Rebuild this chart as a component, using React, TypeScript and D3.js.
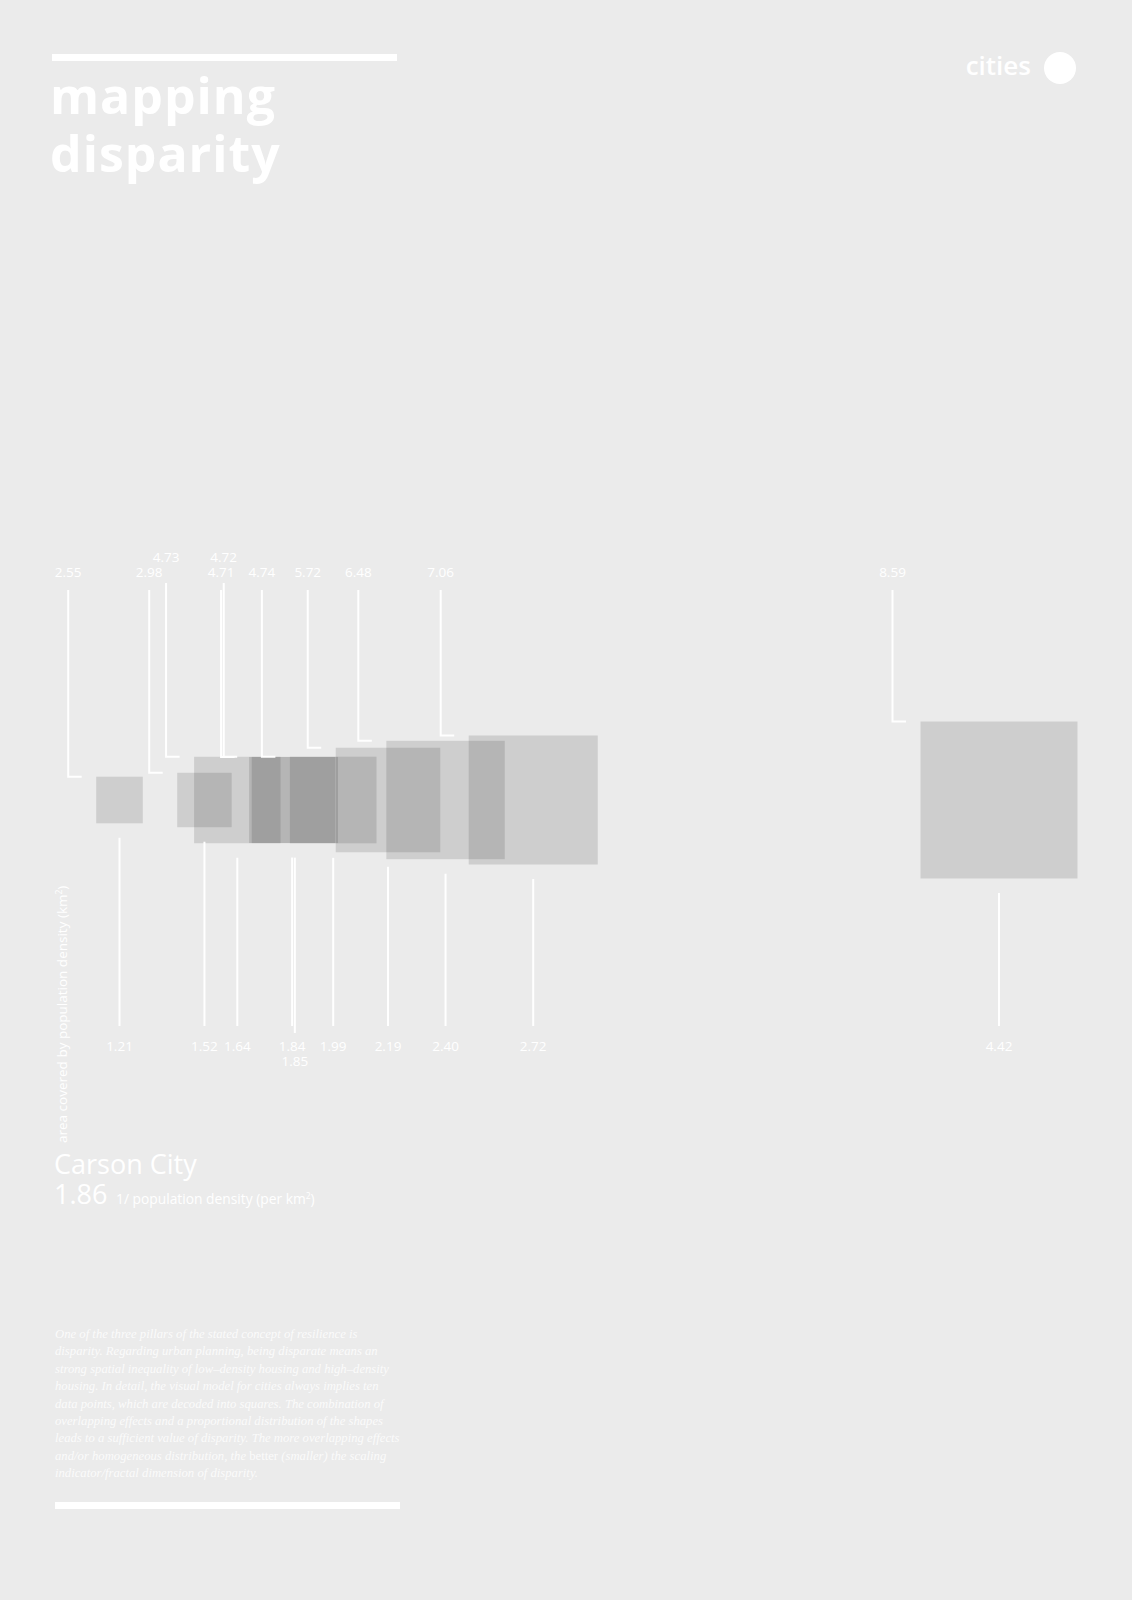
import React, { useEffect, useRef } from 'react';
import * as d3 from 'd3';

// 1 / population density (per km²) -> x position of each square
const inverseDensity = [1.21, 1.52, 1.64, 1.84, 1.85, 1.99, 2.19, 2.40, 2.72, 4.42];
// area covered by population density (km²) -> side of each square
const areaCovered = [2.55, 2.98, 4.73, 4.71, 4.72, 4.74, 5.72, 6.48, 7.06, 8.59];

const cityName = 'Carson City';
const cityValue = 1.86;

const paragraph = [
  'One of the three pillars of the stated concept of resilience is',
  'disparity. Regarding urban planning, being disparate means an',
  'strong spatial inequality of low–density housing and high–density',
  'housing. In detail, the visual model for cities always implies ten',
  'data points, which are decoded into squares. The combination of',
  'overlapping effects and a proportional distribution of the shapes',
  'leads to a sufficient value of disparity. The more overlapping effects',
  'and/or homogeneous distribution, the better (smaller) the scaling',
  'indicator/fractal dimension of disparity.',
];

const W = 1132;
const H = 1600;
const BG = '#ebebeb';
const SANS = "'Open Sans', 'Noto Sans', sans-serif";

// greedy: put a label on the second row when it collides with the previous one on the first row
function assignRows(xs: number[], minGap: number) {
  const order = d3.range(xs.length).sort((a, b) => xs[a] - xs[b]);
  const rows = new Array(xs.length).fill(0);
  let last = -Infinity;
  order.forEach(i => {
    if (xs[i] - last < minGap) rows[i] = 1;
    else last = xs[i];
  });
  return rows;
}

const DisparityChart = () => {
  const ref = useRef<HTMLDivElement>(null);

  useEffect(() => {
    d3.select(ref.current).selectAll('*').remove();

    const svg = d3.select(ref.current)
      .append('svg')
      .attr('width', W)
      .attr('height', H)
      .style('display', 'block');

    svg.append('rect').attr('width', W).attr('height', H).attr('fill', BG);

    // header
    svg.append('rect').attr('x', 52).attr('y', 54).attr('width', 345).attr('height', 7).attr('fill', '#fff');
    const title = svg.append('text')
      .attr('font-family', SANS)
      .attr('font-weight', 700)
      .attr('font-size', 50)
      .attr('letter-spacing', 1)
      .attr('fill', '#fff');
    title.append('tspan').attr('x', 50).attr('y', 114).text('mapping');
    title.append('tspan').attr('x', 50).attr('y', 172).text('disparity');

    svg.append('text')
      .attr('x', 1031).attr('y', 75)
      .attr('text-anchor', 'end')
      .attr('font-family', SANS)
      .attr('font-weight', 600)
      .attr('font-size', 26)
      .attr('fill', '#fff')
      .text('cities');
    svg.append('circle').attr('cx', 1060).attr('cy', 68).attr('r', 16).attr('fill', '#fff');

    // scales
    const data = inverseDensity.map((b, i) => ({ b, t: areaCovered[i] }));
    const x = d3.scaleLinear()
      .domain(d3.extent(inverseDensity) as [number, number])
      .range([119.5, 999]);
    const side = d3.scaleLinear()
      .domain([0, d3.max(areaCovered) as number])
      .range([0, 157]);
    const cy = 800;
    const fmt = d3.format('.2f');

    const topX = data.map(d => x(d.b) - side(d.t) / 2 - 28);
    const topRows = assignRows(topX, 30);
    const botRows = assignRows(data.map(d => x(d.b)), 30);

    // squares
    svg.append('g')
      .selectAll('rect')
      .data(data)
      .enter()
      .append('rect')
      .attr('x', d => x(d.b) - side(d.t) / 2)
      .attr('y', d => cy - side(d.t) / 2)
      .attr('width', d => side(d.t))
      .attr('height', d => side(d.t))
      .attr('fill', '#000')
      .attr('fill-opacity', 0.12);

    // leader lines
    const lines = svg.append('g')
      .attr('fill', 'none')
      .attr('stroke', '#fff')
      .attr('stroke-width', 2);

    lines.selectAll('path.top')
      .data(data)
      .enter()
      .append('path')
      .attr('class', 'top')
      .attr('d', (d, i) => {
        const y0 = topRows[i] ? 583 : 590;
        const y1 = cy - side(d.t) / 2;
        return `M${topX[i]},${y0}V${y1}H${topX[i] + 13.5}`;
      });

    lines.selectAll('path.bottom')
      .data(data)
      .enter()
      .append('path')
      .attr('class', 'bottom')
      .attr('d', (d, i) => {
        const y0 = cy + side(d.t) / 2 + 14.5;
        const y1 = botRows[i] ? 1033 : 1026;
        return `M${x(d.b)},${y0}V${y1}`;
      });

    const labels = svg.append('g')
      .attr('font-family', SANS)
      .attr('font-size', 13.5)
      .attr('fill', '#fff')
      .attr('text-anchor', 'middle');

    labels.selectAll('text.top')
      .data(data)
      .enter()
      .append('text')
      .attr('class', 'top')
      .attr('x', (d, i) => topX[i])
      .attr('y', (d, i) => topRows[i] ? 562 : 577)
      .text(d => fmt(d.t));

    labels.selectAll('text.bottom')
      .data(data)
      .enter()
      .append('text')
      .attr('class', 'bottom')
      .attr('x', d => x(d.b))
      .attr('y', (d, i) => botRows[i] ? 1066 : 1051)
      .text(d => fmt(d.b));

    // y axis title
    const yTitle = svg.append('text')
      .attr('transform', 'translate(67,1143) rotate(-90)')
      .attr('font-family', SANS)
      .attr('font-size', 13.5)
      .attr('fill', '#fff')
      .text('area covered by population density (km');
    yTitle.append('tspan').attr('font-size', 8.5).attr('dy', -5).text('2');
    yTitle.append('tspan').attr('dy', 5).text(')');

    // current city
    svg.append('text')
      .attr('x', 54).attr('y', 1174)
      .attr('font-family', SANS)
      .attr('font-weight', 500)
      .attr('font-size', 27)
      .attr('fill', '#fff')
      .text(cityName);
    svg.append('text')
      .attr('x', 54).attr('y', 1204)
      .attr('font-family', SANS)
      .attr('font-size', 27)
      .attr('fill', '#fff')
      .text(fmt(cityValue));
    const unit = svg.append('text')
      .attr('x', 116).attr('y', 1204)
      .attr('font-family', SANS)
      .attr('font-size', 13.8)
      .attr('fill', '#fff')
      .text('1/ population density (per km');
    unit.append('tspan').attr('font-size', 8.5).attr('dy', -5).text('2');
    unit.append('tspan').attr('dy', 5).text(')');

    // description
    const para = svg.append('text')
      .attr('font-family', "'Liberation Serif', 'DejaVu Serif', serif")
      .attr('font-style', 'italic')
      .attr('font-size', 12.7)
      .attr('fill', '#fff')
      .attr('fill-opacity', 0.8);
    paragraph.forEach((line, i) => {
      const t = para.append('tspan').attr('x', 55).attr('y', 1338 + i * 17.4);
      if (line.includes('better')) {
        const [a, b] = line.split('better');
        t.append('tspan').text(a);
        t.append('tspan').attr('font-style', 'normal').text('better');
        t.append('tspan').text(b);
      } else {
        t.text(line);
      }
    });

    svg.append('rect').attr('x', 55).attr('y', 1502).attr('width', 345).attr('height', 7).attr('fill', '#fff');
  }, []);

  return <div ref={ref} style={{ position: 'absolute', left: 0, top: 0, width: W }} />;
};

export default function App() {
  return <DisparityChart />;
}
